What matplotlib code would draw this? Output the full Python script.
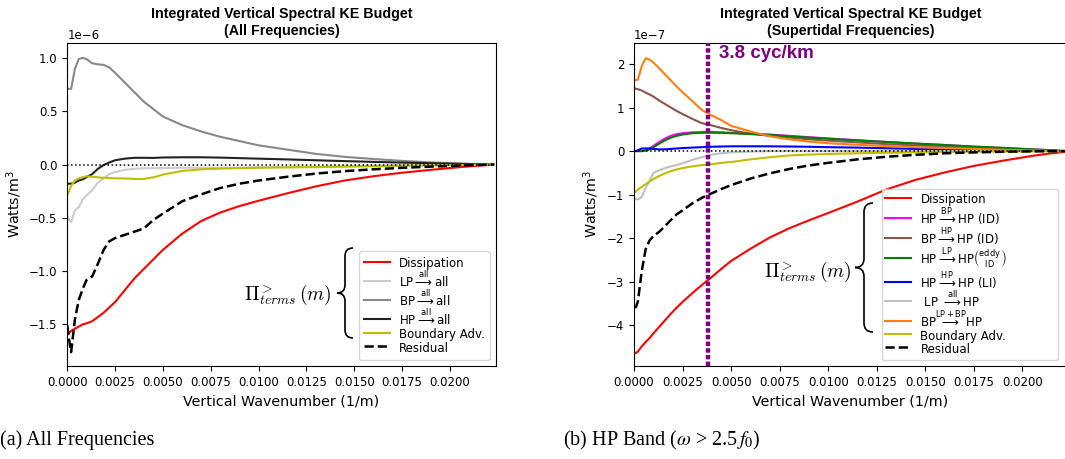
import numpy as np
import matplotlib
matplotlib.use('Agg')
import matplotlib.pyplot as plt
from matplotlib.path import Path
from matplotlib.patches import PathPatch

# ---------- данные (a): все частоты, единицы 1e-6 Вт/м^3 ----------
k_a = [0, 0.0001, 0.0002, 0.0004, 0.0006, 0.0008, 0.0010, 0.0013, 0.0016, 0.0019,
       0.0022, 0.0025, 0.0030, 0.0035, 0.0040, 0.0045, 0.0050, 0.0060, 0.0070, 0.0080,
       0.0090, 0.0100, 0.0115, 0.0130, 0.0145, 0.0160, 0.0175, 0.0190, 0.0205, 0.0215, 0.0223]
diss_a = [-1.60, -1.58, -1.56, -1.54, -1.52, -1.50, -1.49, -1.47, -1.43, -1.39,
          -1.34, -1.29, -1.18, -1.07, -0.98, -0.89, -0.80, -0.65, -0.53, -0.45,
          -0.39, -0.34, -0.27, -0.205, -0.15, -0.11, -0.077, -0.05, -0.025, -0.011, 0.0]
lp_a = [-0.48, -0.52, -0.54, -0.43, -0.40, -0.33, -0.29, -0.24, -0.17, -0.13,
        -0.09, -0.07, -0.05, -0.04, -0.035, -0.035, -0.033, -0.03, -0.03, -0.03,
        -0.028, -0.026, -0.023, -0.02, -0.016, -0.012, -0.009, -0.006, -0.003, -0.001, 0.0]
bp_a = [0.71, 0.71, 0.71, 0.90, 0.99, 1.0, 0.99, 0.95, 0.94, 0.935,
        0.91, 0.86, 0.77, 0.68, 0.59, 0.52, 0.45, 0.37, 0.31, 0.26,
        0.22, 0.18, 0.14, 0.10, 0.072, 0.052, 0.034, 0.02, 0.01, 0.004, 0.0]
hp_a = [-0.18, -0.18, -0.18, -0.17, -0.15, -0.14, -0.12, -0.09, -0.04, -0.005,
        0.02, 0.04, 0.055, 0.063, 0.063, 0.062, 0.066, 0.068, 0.068, 0.065,
        0.06, 0.055, 0.048, 0.04, 0.032, 0.025, 0.018, 0.012, 0.006, 0.003, 0.0]
badv_a = [-0.28, -0.25, -0.20, -0.15, -0.13, -0.12, -0.11, -0.115, -0.12, -0.125,
          -0.125, -0.13, -0.13, -0.135, -0.135, -0.12, -0.095, -0.06, -0.045, -0.038,
          -0.034, -0.03, -0.027, -0.024, -0.02, -0.016, -0.012, -0.009, -0.005, -0.002, 0.0]
resid_a = [-1.51, -1.65, -1.76, -1.45, -1.27, -1.17, -1.085, -1.05, -0.93, -0.80,
           -0.72, -0.69, -0.66, -0.63, -0.60, -0.52, -0.46, -0.345, -0.28, -0.22,
           -0.18, -0.15, -0.115, -0.085, -0.062, -0.045, -0.031, -0.02, -0.01, -0.004, 0.0]

# ---------- данные (b): супертидальные частоты, единицы 1e-7 Вт/м^3 ----------
k_b = [0, 0.0001, 0.0002, 0.0004, 0.0006, 0.0008, 0.0010, 0.0013, 0.0016, 0.0019,
       0.0022, 0.0025, 0.0030, 0.0035, 0.0040, 0.0045, 0.0050, 0.0060, 0.0070, 0.0080,
       0.0090, 0.0100, 0.0115, 0.0130, 0.0145, 0.0160, 0.0175, 0.0190, 0.0205, 0.0215, 0.0222]
diss_b = [-4.64, -4.63, -4.60, -4.48, -4.38, -4.29, -4.18, -4.03, -3.88, -3.73,
          -3.59, -3.46, -3.26, -3.07, -2.89, -2.70, -2.52, -2.24, -1.98, -1.77,
          -1.59, -1.42, -1.16, -0.88, -0.66, -0.49, -0.34, -0.22, -0.11, -0.05, -0.02]
hp_bp_b = [0, 0, 0, 0.0, 0.02, 0.06, 0.12, 0.21, 0.29, 0.35,
           0.39, 0.41, 0.43, 0.44, 0.44, 0.43, 0.42, 0.40, 0.38, 0.35,
           0.32, 0.29, 0.25, 0.21, 0.17, 0.14, 0.10, 0.07, 0.04, 0.02, 0.0]
bp_hp_b = [1.44, 1.43, 1.42, 1.39, 1.34, 1.30, 1.25, 1.16, 1.08, 1.00,
           0.92, 0.85, 0.74, 0.64, 0.59, 0.53, 0.48, 0.40, 0.35, 0.31,
           0.27, 0.24, 0.20, 0.16, 0.13, 0.10, 0.07, 0.045, 0.02, 0.008, 0.0]
hp_lp_b = [0, 0, 0, 0.0, 0.01, 0.04, 0.09, 0.17, 0.25, 0.31,
           0.35, 0.38, 0.41, 0.42, 0.42, 0.42, 0.41, 0.39, 0.37, 0.34,
           0.31, 0.285, 0.245, 0.21, 0.175, 0.14, 0.105, 0.075, 0.04, 0.02, 0.0]
hp_hp_b = [0, 0.0, 0.02, 0.06, 0.06, 0.06, 0.05, 0.04, 0.04, 0.05,
           0.06, 0.07, 0.08, 0.09, 0.10, 0.105, 0.11, 0.11, 0.11, 0.105,
           0.10, 0.09, 0.08, 0.065, 0.05, 0.04, 0.03, 0.02, 0.01, 0.005, 0.0]
lp_all_b = [-1.09, -1.10, -1.11, -1.05, -0.85, -0.68, -0.50, -0.44, -0.39, -0.35,
            -0.32, -0.28, -0.20, -0.14, -0.08, -0.05, -0.03, -0.01, 0.0, 0.0,
            0.0, 0.0, 0.0, 0.0, 0.0, 0.0, 0.0, 0.0, 0.0, 0.0, 0.0]
bp_lpbp_b = [1.63, 1.63, 1.64, 1.95, 2.13, 2.10, 2.03, 1.90, 1.76, 1.62,
             1.48, 1.35, 1.15, 0.94, 0.82, 0.71, 0.58, 0.45, 0.34, 0.27,
             0.22, 0.18, 0.145, 0.115, 0.09, 0.07, 0.05, 0.03, 0.015, 0.006, 0.0]
badv_b = [-0.96, -0.93, -0.88, -0.82, -0.76, -0.70, -0.64, -0.57, -0.51, -0.46,
          -0.42, -0.39, -0.35, -0.32, -0.30, -0.27, -0.25, -0.19, -0.14, -0.10,
          -0.08, -0.065, -0.05, -0.04, -0.03, -0.022, -0.015, -0.01, -0.005, -0.002, 0.0]
resid_b = [-3.58, -3.58, -3.45, -2.75, -2.25, -2.05, -1.95, -1.85, -1.72, -1.58,
           -1.45, -1.36, -1.20, -1.07, -0.97, -0.87, -0.78, -0.63, -0.51, -0.41,
           -0.33, -0.27, -0.19, -0.13, -0.085, -0.05, -0.03, -0.015, -0.006, -0.002, 0.0]

m_cut = 0.0038  # 3.8 cyc/km

plt.rcParams['xtick.labelsize'] = 8.5
plt.rcParams['ytick.labelsize'] = 8.5
plt.rcParams['axes.labelsize'] = 10.3

W, H = 1065, 459
fig = plt.figure(figsize=(W / 100, H / 100), dpi=100)


def fpos(x, y):
    # пиксели -> доли фигуры
    return x / W, 1 - y / H


def add_brace(x_tip, x_end, y_top, y_bot):
    xm = (x_tip + x_end) / 2
    ym = (y_top + y_bot) / 2
    r = (x_end - x_tip) / 2
    verts = [(x_end, y_top), (xm, y_top), (xm, y_top + r),
             (xm, ym - r), (xm, ym), (x_tip, ym),
             (xm, ym), (xm, ym + r),
             (xm, y_bot - r), (xm, y_bot), (x_end, y_bot)]
    codes = [Path.MOVETO, Path.CURVE3, Path.CURVE3, Path.LINETO, Path.CURVE3, Path.CURVE3,
             Path.CURVE3, Path.CURVE3, Path.LINETO, Path.CURVE3, Path.CURVE3]
    verts = [fpos(*v) for v in verts]
    fig.add_artist(PathPatch(Path(verts, codes), transform=fig.transFigure,
                             fill=False, lw=1.2, edgecolor='k'))


def arrow(top):
    return r'$\overset{\mathregular{%s}}{\longrightarrow}$' % top


title_kw = dict(fontsize=10.3, fontweight='bold', family='Liberation Sans')
leg_kw = dict(fontsize=8.5, handlelength=2.2, handleheight=1.6, labelspacing=-0.15)

# ---------- (a) ----------
ax1 = fig.add_axes([67.3 / W, (H - 366) / H, (495.7 - 67.3) / W, (366 - 43) / H])
s = 1e-6
ax1.plot(k_a, np.array(diss_a) * s, color='red', lw=1.5, label='Dissipation')
ax1.plot(k_a, np.array(lp_a) * s, color='#cccccc', lw=1.5, label='LP' + arrow('all') + 'all')
ax1.plot(k_a, np.array(bp_a) * s, color='#888888', lw=1.5, label='BP' + arrow('all') + 'all')
ax1.plot(k_a, np.array(hp_a) * s, color='#222222', lw=1.5, label='HP' + arrow('all') + 'all')
ax1.plot(k_a, np.array(badv_a) * s, color='#bfbf00', lw=1.5, label='Boundary Adv.')
ax1.plot(k_a, np.array(resid_a) * s, 'k--', lw=1.8, label='Residual')
ax1.axhline(0, color='k', ls=':', lw=1.1)
ax1.set_xlim(0, 0.0224)
ax1.set_ylim(-1.89e-6, 1.14e-6)
ax1.set_xticks(np.arange(0, 0.0201, 0.0025))
ax1.xaxis.set_major_formatter(plt.FormatStrFormatter('%.4f'))
ax1.set_xlabel('Vertical Wavenumber (1/m)')
ax1.set_ylabel(r'Watts/m$^3$')
ax1.set_title('Integrated Vertical Spectral KE Budget\n(All Frequencies)', **title_kw)
ax1.legend(loc='lower right', borderpad=0.4, **leg_kw)

# ---------- (b) ----------
ax2 = fig.add_axes([634 / W, (H - 366) / H, (1067 - 634) / W, (366 - 43) / H])
s = 1e-7
ax2.plot(k_b, np.array(diss_b) * s, color='red', lw=1.5, label='Dissipation')
ax2.plot(k_b, np.array(hp_bp_b) * s, color='magenta', lw=1.5, label='HP' + arrow('BP') + 'HP (ID)')
ax2.plot(k_b, np.array(bp_hp_b) * s, color='#8c564b', lw=1.5, label='BP' + arrow('HP') + 'HP (ID)')
ax2.plot(k_b, np.array(hp_lp_b) * s, color='green', lw=1.5,
         label='HP' + arrow('LP') + r'HP$\binom{\mathregular{eddy}}{\mathregular{ID}}$')
ax2.plot(k_b, np.array(hp_hp_b) * s, color='blue', lw=1.5, label='HP' + arrow('HP') + 'HP (LI)')
ax2.plot(k_b, np.array(lp_all_b) * s, color='silver', lw=1.5, label=' LP ' + arrow('all') + 'HP')
ax2.plot(k_b, np.array(bp_lpbp_b) * s, color='#ff7f0e', lw=1.5, label='BP' + arrow('LP+BP') + 'HP')
ax2.plot(k_b, np.array(badv_b) * s, color='#bfbf00', lw=1.5, label='Boundary Adv.')
ax2.plot(k_b, np.array(resid_b) * s, 'k--', lw=1.8, label='Residual')
ax2.axhline(0, color='k', ls=':', lw=1.1)
ax2.axvline(m_cut, color='purple', lw=3.2, ls=(0, (1, 0.5)), zorder=4)
ax2.text(m_cut + 0.0006, 2.25e-7, '3.8 cyc/km', color='purple', fontsize=13.5,
         fontweight='bold', family='Liberation Sans', va='center')
ax2.set_xlim(0, 0.0223)
ax2.set_ylim(-4.93e-7, 2.48e-7)
ax2.set_xticks(np.arange(0, 0.0201, 0.0025))
ax2.xaxis.set_major_formatter(plt.FormatStrFormatter('%.4f'))
ax2.set_xlabel('Vertical Wavenumber (1/m)')
ax2.set_ylabel(r'Watts/m$^3$')
ax2.set_title('Integrated Vertical Spectral KE Budget\n(Supertidal Frequencies)', **title_kw)
ax2.legend(loc='lower left', bbox_to_anchor=(0.573, 0.019, 0.406, 0.5), mode='expand',
           borderaxespad=0, borderpad=0.25, **leg_kw)

# Π и фигурные скобки
pi_txt = r'$\Pi^{>}_{terms}\,(m)$'
fig.text(*fpos(332, 295), pi_txt, math_fontfamily='cm', fontsize=14, ha='right', va='center')
add_brace(337, 353, 248, 338)
fig.text(*fpos(852, 272), pi_txt, math_fontfamily='cm', fontsize=14, ha='right', va='center')
add_brace(855, 873, 203, 332)

# подписи панелей
fig.text(*fpos(0, 440), '(a) All Frequencies', family='Liberation Serif', fontsize=14.5, va='center')
fig.text(*fpos(563, 440), r'(b) HP Band ($\omega$ > 2.5$\,f_0$)', family='Liberation Serif',
         math_fontfamily='stix', fontsize=14.5, va='center')

fig.savefig('out.png', dpi=100)
